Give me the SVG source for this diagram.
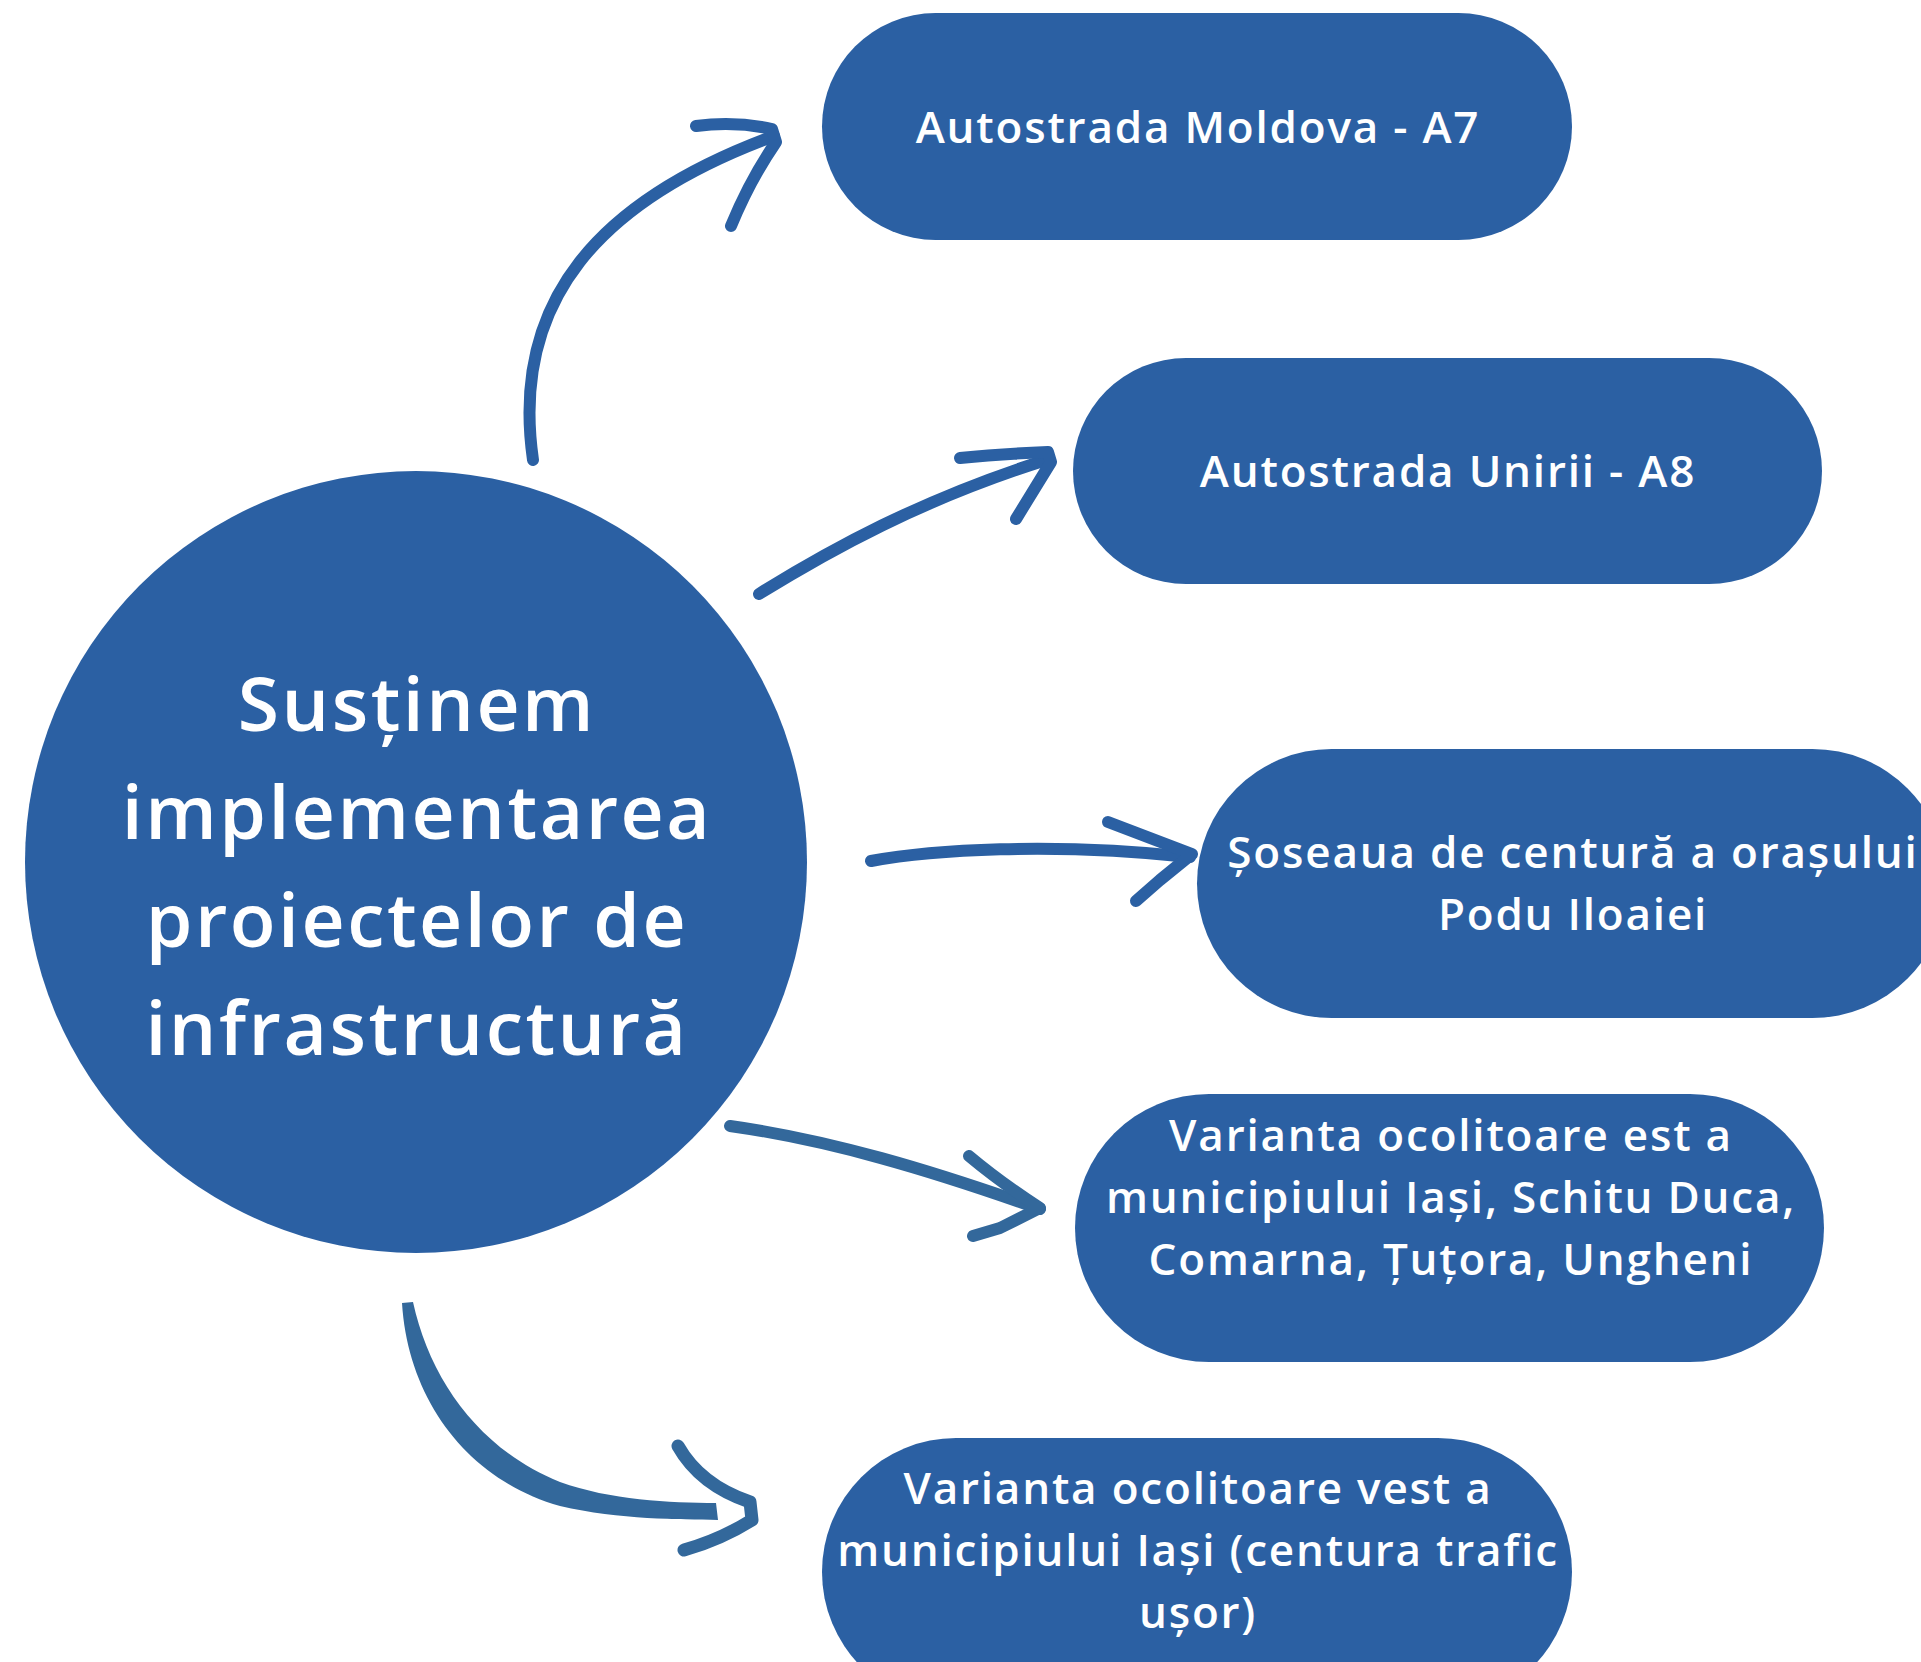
<svg xmlns="http://www.w3.org/2000/svg" width="1921" height="1662" viewBox="0 0 1921 1662">
<style>
.node{fill:#2B60A3}
.lbl{fill:#FFFFFF;font-family:"Open Sans","Noto Sans","DejaVu Sans",sans-serif;font-size:44px;letter-spacing:1.8px;text-anchor:middle;font-weight:600}
.big{fill:#FFFFFF;font-family:"Open Sans","Noto Sans","DejaVu Sans",sans-serif;font-size:75px;letter-spacing:2.5px;text-anchor:middle;font-weight:600}
.arr{fill:none;stroke:#2B60A3;stroke-width:12;stroke-linecap:round;stroke-linejoin:round}
.arr2{fill:none;stroke:#33689B;stroke-width:12;stroke-linecap:round;stroke-linejoin:round}
</style>
<rect width="1921" height="1662" fill="#FFFFFF"/>
<g id="connectors">
<g id="arrow1">
<path class="arr" d="M533,460 C510,300 600,200 774,136"/>
<path class="arr" d="M696,126 Q735,121 772,129 L776,142 Q750,180 731,226"/>
</g>
<g id="arrow2">
<path class="arr" d="M759,594 C830,550 920,500 1046,460"/>
<path class="arr" d="M960,458 Q1000,454 1048,452 L1051,462 L1016,519"/>
</g>
<g id="arrow3">
<path class="arr" d="M871,861 C930,850 1050,842 1190,857"/>
<path class="arr" d="M1108,822 L1150,838 L1192,854 L1160,880 L1136,901"/>
</g>
<g id="arrow4">
<path class="arr2" d="M730,1126 C830,1140 930,1170 1040,1209"/>
<path class="arr2" d="M969,1156 Q1000,1182 1040,1208 L1000,1228 L973,1236"/>
</g>
<g id="arrow5">
<path fill="#33689B" d="M402,1303 C408,1400 468,1480 560,1506 C620,1520 680,1519 718,1520 L716,1503 C670,1503 610,1500 560,1482 C480,1450 430,1380 413,1302 Z"/>
<path fill="none" stroke="#33689B" stroke-width="13" stroke-linecap="round" stroke-linejoin="round" d="M678,1446 Q700,1485 750,1502 L752,1520 Q720,1540 684,1550"/>
</g>
</g>
<g id="center">
<circle class="node" cx="416" cy="862" r="391"/>
<text class="big" x="417" y="731">Susținem</text>
<text class="big" x="417" y="839">implementarea</text>
<text class="big" x="417" y="947">proiectelor de</text>
<text class="big" x="417" y="1055">infrastructură</text>
</g>
<g id="node1">
<rect class="node" x="822" y="13" width="750" height="227" rx="113.5"/>
<text class="lbl" x="1198" y="143">Autostrada Moldova - A7</text>
</g>
<g id="node2">
<rect class="node" x="1073" y="358" width="749" height="226" rx="113"/>
<text class="lbl" x="1448" y="487">Autostrada Unirii - A8</text>
</g>
<g id="node3">
<rect class="node" x="1197" y="749" width="750" height="269" rx="134.5"/>
<text class="lbl" x="1573" y="868">Șoseaua de centură a orașului</text>
<text class="lbl" x="1573" y="930">Podu Iloaiei</text>
</g>
<g id="node4">
<rect class="node" x="1075" y="1094" width="749" height="268" rx="134"/>
<text class="lbl" x="1451" y="1151">Varianta ocolitoare est a</text>
<text class="lbl" x="1451" y="1213">municipiului Iași, Schitu Duca,</text>
<text class="lbl" x="1451" y="1275">Comarna, Țuțora, Ungheni</text>
</g>
<g id="node5">
<rect class="node" x="822" y="1438" width="750" height="268" rx="134"/>
<text class="lbl" x="1198" y="1504">Varianta ocolitoare vest a</text>
<text class="lbl" x="1198" y="1566">municipiului Iași (centura trafic</text>
<text class="lbl" x="1198" y="1628">ușor)</text>
</g>
</svg>
